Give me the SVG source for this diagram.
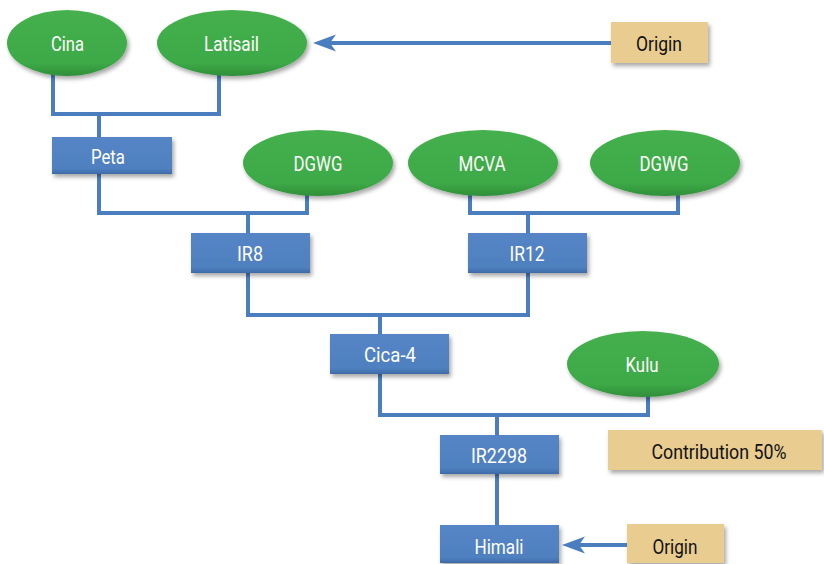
<svg xmlns="http://www.w3.org/2000/svg" width="824" height="564" viewBox="0 0 824 564">
<defs>
<filter id="sh" x="-20%" y="-20%" width="140%" height="150%">
<feDropShadow dx="2" dy="3" stdDeviation="2" flood-color="#000" flood-opacity="0.35"/>
</filter>
<linearGradient id="gg" x1="0" y1="0" x2="0" y2="1">
<stop offset="0" stop-color="#45b04e"/>
<stop offset="0.8" stop-color="#3daa47"/>
<stop offset="1" stop-color="#2f8f39"/>
</linearGradient>
<linearGradient id="bg" x1="0" y1="0" x2="0" y2="1">
<stop offset="0" stop-color="#5585c6"/>
<stop offset="0.85" stop-color="#4f80c0"/>
<stop offset="1" stop-color="#3e6ba8"/>
</linearGradient>
<marker id="ah" markerWidth="24" markerHeight="18" refX="13" refY="8.5" orient="auto" markerUnits="userSpaceOnUse">
<path d="M0,0 L23,8.5 L0,17 L6,8.5 Z" fill="#4a7ebf"/>
</marker>
</defs>
<style>
.el{fill:url(#gg);filter:url(#sh)}
.bx{fill:url(#bg);filter:url(#sh)}
.tn{fill:#e9cc8f;filter:url(#sh)}
.w{fill:#fff;font-family:Roboto,"Liberation Sans",sans-serif;font-size:20px;text-anchor:middle;dominant-baseline:central}
.k{fill:#111;font-family:Roboto,"Liberation Sans",sans-serif;font-size:20px;text-anchor:middle;dominant-baseline:central}
.ln{fill:none;stroke:#4a7ebf;stroke-width:4}
</style>
<g id="connectors">
<polyline class="ln" points="53,74 53,114 219,114 219,74"/>
<line class="ln" x1="99" y1="114" x2="99" y2="138"/>
<polyline class="ln" points="99,174 99,213 307,213 307,195"/>
<line class="ln" x1="248" y1="213" x2="248" y2="234"/>
<polyline class="ln" points="470,195 470,213 678,213 678,195"/>
<line class="ln" x1="528" y1="213" x2="528" y2="234"/>
<polyline class="ln" points="248,273 248,315 528,315 528,273"/>
<line class="ln" x1="380" y1="315" x2="380" y2="335"/>
<polyline class="ln" points="380,374 380,415 648,415 648,396"/>
<line class="ln" x1="497" y1="415" x2="497" y2="436"/>
<line class="ln" x1="497" y1="474" x2="497" y2="526"/>
<line class="ln" x1="611" y1="43" x2="323" y2="43" marker-end="url(#ah)"/>
<line class="ln" x1="627" y1="545" x2="572" y2="545" marker-end="url(#ah)"/>
</g>
<g id="cina"><ellipse class="el" cx="67" cy="43" rx="60" ry="33"/><text class="w" x="67.5" y="44" textLength="33" lengthAdjust="spacingAndGlyphs">Cina</text></g>
<g id="latisail"><ellipse class="el" cx="232" cy="43" rx="75" ry="33"/><text class="w" x="231.5" y="44" textLength="55" lengthAdjust="spacingAndGlyphs">Latisail</text></g>
<g id="origin1"><rect class="tn" x="611" y="22" width="97" height="41"/><text class="k" x="659" y="44" textLength="46" lengthAdjust="spacingAndGlyphs">Origin</text></g>
<g id="peta"><rect class="bx" x="52" y="137" width="120" height="37"/><text class="w" x="108" y="157" textLength="34" lengthAdjust="spacingAndGlyphs">Peta</text></g>
<g id="dgwg1"><ellipse class="el" cx="318" cy="163" rx="75" ry="33"/><text class="w" x="318" y="164" textLength="49" lengthAdjust="spacingAndGlyphs">DGWG</text></g>
<g id="mcva"><ellipse class="el" cx="483" cy="163" rx="75" ry="33"/><text class="w" x="482" y="164" textLength="47" lengthAdjust="spacingAndGlyphs">MCVA</text></g>
<g id="dgwg2"><ellipse class="el" cx="665" cy="163" rx="75" ry="33"/><text class="w" x="664" y="164" textLength="49" lengthAdjust="spacingAndGlyphs">DGWG</text></g>
<g id="ir8"><rect class="bx" x="191" y="233" width="119" height="40"/><text class="w" x="250" y="254" textLength="26" lengthAdjust="spacingAndGlyphs">IR8</text></g>
<g id="ir12"><rect class="bx" x="468" y="233" width="119" height="40"/><text class="w" x="527" y="254" textLength="35" lengthAdjust="spacingAndGlyphs">IR12</text></g>
<g id="cica4"><rect class="bx" x="330" y="334" width="119" height="40"/><text class="w" x="390" y="355" textLength="52" lengthAdjust="spacingAndGlyphs">Cica-4</text></g>
<g id="kulu"><ellipse class="el" cx="643" cy="364" rx="76" ry="33"/><text class="w" x="642" y="365" textLength="33" lengthAdjust="spacingAndGlyphs">Kulu</text></g>
<g id="ir2298"><rect class="bx" x="440" y="435" width="119" height="39"/><text class="w" x="499" y="456" textLength="56" lengthAdjust="spacingAndGlyphs">IR2298</text></g>
<g id="contribution"><rect class="tn" x="608" y="430" width="214" height="40"/><text class="k" x="719" y="452" textLength="135" lengthAdjust="spacingAndGlyphs">Contribution 50%</text></g>
<g id="himali"><rect class="bx" x="440" y="525" width="119" height="38"/><text class="w" x="499" y="547" textLength="49" lengthAdjust="spacingAndGlyphs">Himali</text></g>
<g id="origin2"><rect class="tn" x="627" y="524" width="97" height="39"/><text class="k" x="675" y="547" textLength="45" lengthAdjust="spacingAndGlyphs">Origin</text></g>
</svg>
